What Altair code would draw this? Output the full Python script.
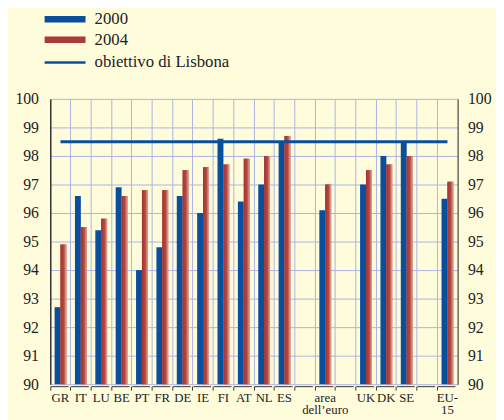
import altair as alt
import pandas as pd

categories = ["GR", "IT", "LU", "BE", "PT", "FR", "DE", "IE", "FI", "AT", "NL", "ES",
              "gap1", "area dell’euro", "gap2", "UK", "DK", "SE", "gap3", "EU-15"]
bar_cats = ["GR", "IT", "LU", "BE", "PT", "FR", "DE", "IE", "FI", "AT", "NL", "ES",
            "area dell’euro", "UK", "DK", "SE", "EU-15"]
values_2000 = [92.7, 96.6, 95.4, 96.9, 94.0, 94.8, 96.6, 96.0, 98.6, 96.4, 97.0, 98.5,
               96.1, 97.0, 98.0, 98.5, 96.5]
values_2004 = [94.9, 95.5, 95.8, 96.6, 96.8, 96.8, 97.5, 97.6, 97.7, 97.9, 98.0, 98.7,
               97.0, 97.5, 97.7, 98.0, 97.1]
years = ["2000", "2004"]
target_label = "obiettivo di Lisbona"
target_value = 98.5
y_ticks = [90, 91, 92, 93, 94, 95, 96, 97, 98, 99, 100]

rows = []
for c, a, b in zip(bar_cats, values_2000, values_2004):
    rows.append({"cat": c, "year": "2000", "value": a})
    rows.append({"cat": c, "year": "2004", "value": b})
df = pd.DataFrame(rows)
df_target = pd.DataFrame([{"start": categories[0], "end": categories[-1],
                           "target": target_value, "label": target_label}])

FONT = "Liberation Serif"
BLUE = "#0a4f9e"
RED = "#ab3b38"
GRID = "#aab4e2"

label_expr = ("indexof(datum.value, 'gap') == 0 ? '' : "
              "datum.value == 'area dell’euro' ? ['area', 'dell’euro'] : "
              "datum.value == 'EU-15' ? ['EU-', '15'] : datum.value")

x_scale = alt.Scale(domain=categories, paddingInner=0, paddingOuter=0)
y_scale = alt.Scale(domain=[90, 100], nice=False, zero=False)

x_enc = alt.X("cat:N", scale=x_scale, title=None,
              axis=alt.Axis(bandPosition=0, grid=True, gridColor=GRID,
                            labelExpr=label_expr, labelAngle=0, labelOverlap=False,
                            labelFont=FONT, labelFontSize=13, labelColor="#222",
                            labelLineHeight=12, labelPadding=2,
                            domainColor="#333", domainDash=[18, 2.7], offset=2,
                            tickColor="#333", tickSize=4))
xoff = alt.XOffset("year:N", scale=alt.Scale(domain=years, paddingOuter=0.725, paddingInner=0))

bars = alt.Chart(df).mark_bar().encode(
    x=x_enc,
    xOffset=xoff,
    y=alt.Y("value:Q", scale=y_scale, title=None,
            axis=alt.Axis(orient="left", values=y_ticks, grid=True, gridColor=GRID,
                          ticks=False, labelFont=FONT, labelFontSize=16, labelColor="#222",
                          labelPadding=12, domainColor="#111", domainWidth=1.2)),
    y2=alt.Y2(datum=90),
    color=alt.Color("year:N", scale=alt.Scale(domain=years, range=[BLUE, RED]),
                    legend=alt.Legend(title=None, orient="none", legendX=6.5, legendY=-89.5,
                                      symbolType="M-6.93,-1.1L6.93,-1.1L6.93,1.1L-6.93,1.1Z",
                                      symbolSize=36, symbolStrokeWidth=0,
                                      labelOffset=21.5, labelFont=FONT, labelFontSize=17,
                                      labelColor="#222", rowPadding=3, padding=0)),
)

red_overlay = alt.Chart(df).transform_filter(alt.datum.year == "2004").mark_bar(
    fill=alt.LinearGradient(
        gradient="linear", x1=0, x2=1, y1=0, y2=0,
        stops=[alt.GradientStop(offset=0, color="#a3332f"),
               alt.GradientStop(offset=0.55, color="#b4473f"),
               alt.GradientStop(offset=1, color="#e3aba3")])
).encode(
    x=alt.X("cat:N", scale=x_scale),
    xOffset=xoff,
    y=alt.Y("value:Q", scale=y_scale, axis=None),
    y2=alt.Y2(datum=90),
)

rule = alt.Chart(df_target).mark_rule(strokeWidth=3).encode(
    x=alt.X("start:N", scale=x_scale),
    x2="end:N",
    y=alt.Y("target:Q", scale=y_scale, title=None,
            axis=alt.Axis(orient="right", values=y_ticks, grid=False, ticks=False,
                          labelFont=FONT, labelFontSize=16, labelColor="#222",
                          labelPadding=10, domainColor="#444", domainWidth=1.2)),
    stroke=alt.Stroke("label:N", scale=alt.Scale(range=[BLUE]),
                      legend=alt.Legend(title=None, orient="none", legendX=6.5, legendY=-45.5,
                                        symbolType="M-6.93,0L6.93,0", symbolSize=36,
                                        symbolStrokeWidth=2.5, labelOffset=21.5,
                                        labelFont=FONT, labelFontSize=17, labelColor="#222",
                                        padding=0)),
)

chart = alt.layer(bars, red_overlay, rule).resolve_axis(y="independent").properties(
    width=414, height=290,
    autosize=alt.AutoSizeParams(type="none"),
    padding={"left": 43, "top": 89, "right": 39, "bottom": 33},
    background="#fffcdc",
).configure(font=FONT).configure_legend(labelFont=FONT).configure_view(stroke=None)

chart.save("out.html", embed_options={"renderer": "svg", "actions": False})
